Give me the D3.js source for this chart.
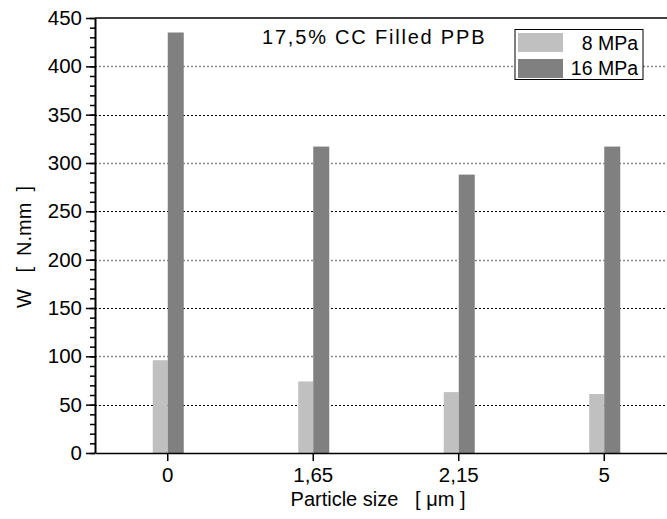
<!DOCTYPE html>
<html>
<head>
<meta charset="utf-8">
<script src="https://cdn.jsdelivr.net/npm/d3@7"></script>
<style>
  body { margin: 0; background: #fff; }
  svg { display: block; font-family: "Liberation Sans", Arial, sans-serif; }
  .axis text { font-size: 20.5px; fill: #000; }
  .axis path, .axis line { stroke: #000; stroke-width: 1.5px; }
</style>
</head>
<body>
<svg id="chart" width="667" height="519"></svg>
<script>
// values
var categories = ["0", "1,65", "2,15", "5"];
var mpa8 = [96, 74, 63, 61];
var mpa16 = [435, 317, 288, 317];
var seriesNames = ["8 MPa", "16 MPa"];
var yTicks = [0, 50, 100, 150, 200, 250, 300, 350, 400, 450];

var svg = d3.select("#chart"),
    plotLeft = 95, plotRight = 677, plotTop = 18, plotBottom = 453,
    colors = ["#c0c0c0", "#808080"];

var x = d3.scaleBand().domain(categories).range([plotLeft, plotRight]);
var y = d3.scaleLinear().domain([0, 450]).range([plotBottom, plotTop]);

// dotted grid, the 100s look greyer than the 50s
svg.append("g").selectAll("line")
  .data(yTicks.filter(function(d) { return d > 0 && d < 450; }))
  .enter().append("line")
    .attr("x1", plotLeft).attr("x2", 667)
    .attr("y1", function(d) { return Math.round(y(d)) + 0.5; })
    .attr("y2", function(d) { return Math.round(y(d)) + 0.5; })
    .attr("stroke", function(d) { return d % 100 == 0 ? "#888" : "#000"; })
    .attr("stroke-width", function(d) { return d % 100 == 0 ? 1.5 : 1; })
    .attr("stroke-dasharray", "2,2");

// top frame line
svg.append("line")
  .attr("x1", plotLeft).attr("x2", 667)
  .attr("y1", y(450)).attr("y2", y(450))
  .attr("stroke", "#000").attr("stroke-width", 1.5);

var mid = function(c) { return x(c) + x.bandwidth() / 2; };

svg.append("g").selectAll("rect")
  .data(mpa8).enter().append("rect")
    .attr("x", function(d, i) { return mid(categories[i]) - 15; })
    .attr("width", 15)
    .attr("y", function(d) { return y(d); })
    .attr("height", function(d) { return plotBottom - y(d); })
    .attr("fill", colors[0]);

svg.append("g").selectAll("rect")
  .data(mpa16).enter().append("rect")
    .attr("x", function(d, i) { return mid(categories[i]); })
    .attr("width", 16)
    .attr("y", function(d) { return y(d); })
    .attr("height", function(d) { return plotBottom - y(d); })
    .attr("fill", colors[1]);

// y axis, major and minor ticks
svg.append("g")
  .attr("class", "axis")
  .attr("transform", "translate(" + plotLeft + ",0)")
  .call(d3.axisLeft(y).tickValues(d3.range(0, 451, 10)).tickSize(5).tickFormat(""))
  .call(function(g) { g.select(".domain").remove(); });

svg.append("g")
  .attr("class", "axis")
  .attr("transform", "translate(" + plotLeft + ",0)")
  .call(d3.axisLeft(y).tickValues(yTicks).tickSize(9).tickSizeOuter(0).tickPadding(4))
  .call(function(g) { g.select(".domain").style("stroke-width", "2px"); });

svg.append("g")
  .attr("class", "axis")
  .attr("transform", "translate(0," + plotBottom + ")")
  .call(d3.axisBottom(x).tickSize(8).tickSizeOuter(0).tickPadding(6));

// axis titles
svg.append("text")
  .attr("x", 378).attr("y", 506)
  .attr("text-anchor", "middle")
  .style("font-size", "20px")
  .attr("xml:space", "preserve")
  .text("Particle size   [ \u03bcm ]");

svg.append("text")
  .attr("transform", "translate(31,247) rotate(-90)")
  .attr("text-anchor", "middle")
  .style("font-size", "20px")
  .attr("xml:space", "preserve")
  .text("W   [  N.mm  ]");

svg.append("text")
  .attr("x", 262).attr("y", 44)
  .style("font-size", "20px")
  .style("letter-spacing", "1.8px")
  .text("17,5% CC Filled PPB");

// legend
var legend = svg.append("g");
legend.append("rect")
  .attr("x", 515).attr("y", 29.5).attr("width", 128).attr("height", 50)
  .attr("fill", "#fff").attr("stroke", "#000").attr("stroke-width", 1);

seriesNames.forEach(function(name, i) {
  legend.append("rect")
    .attr("x", 518).attr("y", 33 + i * 26).attr("width", 45).attr("height", 19)
    .attr("fill", colors[i]);
  legend.append("text")
    .attr("x", 638).attr("y", 50 + i * 25)
    .attr("text-anchor", "end")
    .style("font-size", "19.5px")
    .text(name);
});
</script>
</body>
</html>
